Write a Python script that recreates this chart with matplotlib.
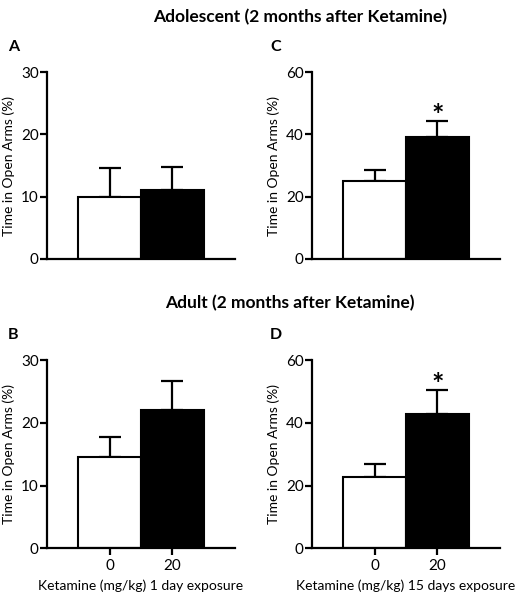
import matplotlib
matplotlib.use("Agg")
import matplotlib.pyplot as plt

plt.rcParams['font.family'] = ['Lato', 'DejaVu Sans']

doses = ["0", "20"]
vals_A = [10.0, 11.0]
err_A = [4.6, 3.7]
vals_C = [25.1, 39.1]
err_C = [3.4, 5.2]
vals_B = [14.6, 22.1]
err_B = [3.2, 4.6]
vals_D = [22.8, 42.8]
err_D = [4.1, 7.5]
sig_C = [False, True]
sig_D = [False, True]

ylims = {"A": 30, "C": 60, "B": 30, "D": 60}
yticks = {"A": [0, 10, 20, 30], "C": [0, 20, 40, 60], "B": [0, 10, 20, 30], "D": [0, 20, 40, 60]}

fig = plt.figure(figsize=(5.26, 6.0), dpi=100)
W, H = 526, 600

def ax_at(x0, y0, x1, y1):
    return fig.add_axes([x0 / W, 1 - y1 / H, (x1 - x0) / W, (y1 - y0) / H])

axes = {
    "A": ax_at(47, 72, 235, 259),
    "C": ax_at(312, 72, 500, 259),
    "B": ax_at(47, 360, 235, 548.3),
    "D": ax_at(312, 360, 500, 548.3),
}
data = {"A": (vals_A, err_A, None), "C": (vals_C, err_C, sig_C),
        "B": (vals_B, err_B, None), "D": (vals_D, err_D, sig_D)}
xlabels = {"B": "Ketamine (mg/kg) 1 day exposure", "D": "Ketamine (mg/kg) 15 days exposure"}

for key, ax in axes.items():
    vals, errs, sig = data[key]
    x = list(range(len(vals)))
    ax.bar(x, vals, width=1.0, color=["white", "black"], edgecolor="black", linewidth=1.5, zorder=2)
    ax.errorbar(x, vals, yerr=[[0] * len(errs), errs], fmt="none", ecolor="black",
                elinewidth=1.6, capsize=8, capthick=1.6, zorder=1)
    ax.set_xlim(-1, 2)
    ax.set_ylim(0, ylims[key])
    ax.set_yticks(yticks[key])
    ax.spines["top"].set_visible(False)
    ax.spines["right"].set_visible(False)
    ax.spines["left"].set_linewidth(1.6)
    ax.spines["bottom"].set_linewidth(1.6)
    ax.tick_params(axis="y", length=5, width=1.6, labelsize=11, pad=1)
    ax.set_ylabel("Time in Open Arms (%)", fontsize=10, labelpad=4)
    if key in xlabels:
        ax.set_xticks(x)
        ax.set_xticklabels(doses)
        ax.tick_params(axis="x", length=5, width=1.6, labelsize=11, pad=3)
        ax.set_xlabel(xlabels[key], fontsize=10, labelpad=4)
    else:
        ax.set_xticks([])
    if sig is not None:
        for xi, v, e, s in zip(x, vals, errs, sig):
            if s:
                ax.annotate("*", xy=(xi, v + e), xytext=(0, -2), textcoords="offset points",
                            ha="center", va="baseline", fontsize=21, fontweight="bold",
                            annotation_clip=False)

fig.text(300 / W, 1 - 17 / H, "Adolescent (2 months after Ketamine)", ha="center", va="center",
         fontsize=12.5, fontweight="bold")
fig.text(290 / W, 1 - 303 / H, "Adult (2 months after Ketamine)", ha="center", va="center",
         fontsize=12.5, fontweight="bold")
for lab, (px, py) in {"A": (8, 47), "C": (270, 47), "B": (8, 335), "D": (270, 335)}.items():
    fig.text(px / W, 1 - py / H, lab, ha="left", va="center", fontsize=11.5, fontweight="bold")

fig.savefig("out.png", dpi=100)
